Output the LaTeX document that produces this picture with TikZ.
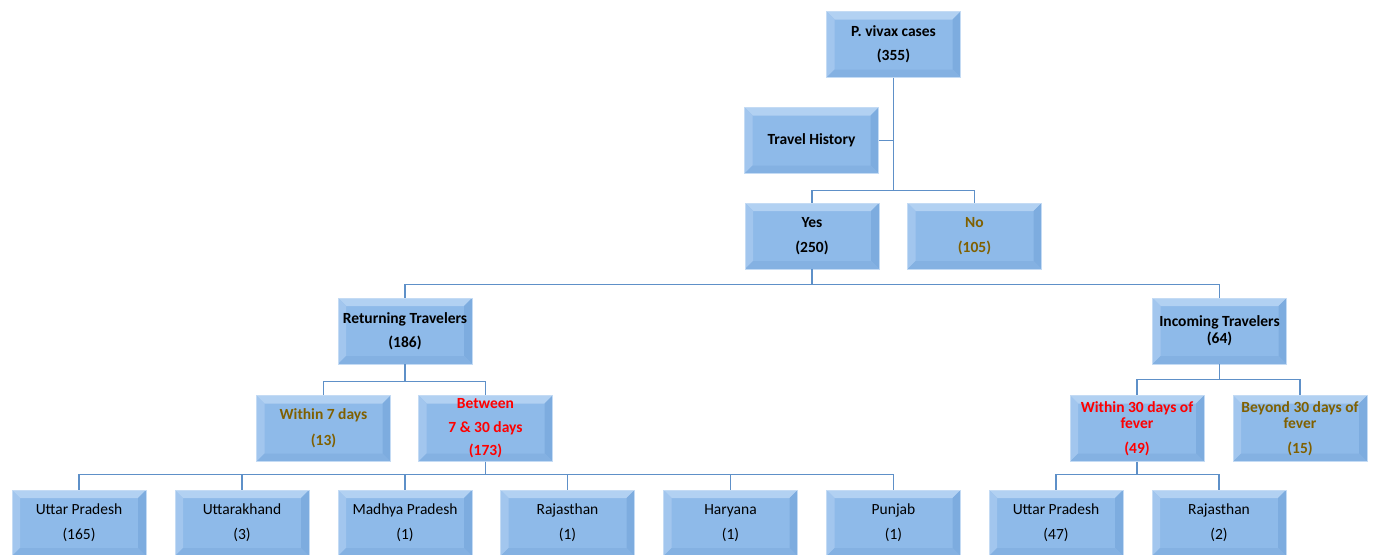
\documentclass[tikz,border=0pt]{standalone}
\usepackage{fontspec}
\setmainfont{Carlito}

\definecolor{boxfill}{HTML}{8EBAE9}
\definecolor{boxedge}{HTML}{C4DBF4}
\definecolor{bevtop}{HTML}{B2D1F2}
\definecolor{bevleft}{HTML}{A2C6EE}
\definecolor{bevright}{HTML}{7DACDF}
\definecolor{bevbottom}{HTML}{84B1E2}
\definecolor{linkcol}{HTML}{5E90C8}
\definecolor{olive}{HTML}{806000}

\tikzset{
  bevelbox/.style={minimum width=134pt, minimum height=66pt, inner sep=0pt,
    fill=boxfill, draw=boxedge, line width=0.6pt, align=center,
    font=\bfseries\fontsize{15.5}{18}\selectfont,
    path picture={
      \fill[bevtop] (path picture bounding box.north west) -- (path picture bounding box.north east)
        -- ([shift={(-8pt,-8pt)}]path picture bounding box.north east) -- ([shift={(8pt,-8pt)}]path picture bounding box.north west) -- cycle;
      \fill[bevleft] (path picture bounding box.north west) -- (path picture bounding box.south west)
        -- ([shift={(8pt,8pt)}]path picture bounding box.south west) -- ([shift={(8pt,-8pt)}]path picture bounding box.north west) -- cycle;
      \fill[bevright] (path picture bounding box.north east) -- (path picture bounding box.south east)
        -- ([shift={(-8pt,8pt)}]path picture bounding box.south east) -- ([shift={(-8pt,-8pt)}]path picture bounding box.north east) -- cycle;
      \fill[bevbottom] (path picture bounding box.south west) -- (path picture bounding box.south east)
        -- ([shift={(-8pt,8pt)}]path picture bounding box.south east) -- ([shift={(8pt,8pt)}]path picture bounding box.south west) -- cycle;
    }},
  statebox/.style={bevelbox, font=\fontsize{15.5}{18}\selectfont},
  link/.style={draw=linkcol, line width=1.2pt},
}

\begin{document}
\begin{tikzpicture}[x=1pt,y=-1pt]
\useasboundingbox (0,0) rectangle (1378,554);

% upper levels
\node[bevelbox] (root) at (893.5,44.5) {P. vivax cases\\[6pt](355)};
\node[bevelbox] (travel) at (811.5,140.5) {Travel History};
\node[bevelbox] (yes) at (812,236) {Yes\\[7pt](250)};
\node[bevelbox, text=olive] (no) at (974.5,236) {No\\[7pt](105)};

\node[bevelbox] (ret) at (405,331) {Returning Travelers\\[6pt](186)};
\node[bevelbox] (inc) at (1219.5,331) {Incoming Travelers\\[-1pt](64)};

\node[bevelbox, text=olive] (within7) at (323.5,428.5) {Within 7 days\\[8pt](13)};
\node[bevelbox, text=red] (between) at (485.5,428.5) {Between\\[6pt]7 \& 30 days\\[5pt](173)};
\node[bevelbox, text=red] (within30) at (1137,428.5) {Within 30 days of\\[-2pt]fever\\[7pt](49)};
\node[bevelbox, text=olive] (beyond30) at (1300,428.5) {Beyond 30 days of\\[-2pt]fever\\[7pt](15)};

% states
\node[statebox] (up1) at (79,523) {Uttar Pradesh\\[7pt](165)};
\node[statebox] (uk) at (242,523) {Uttarakhand\\[7pt](3)};
\node[statebox] (mp) at (405,523) {Madhya Pradesh\\[7pt](1)};
\node[statebox] (rj1) at (567.5,523) {Rajasthan\\[7pt](1)};
\node[statebox] (hr) at (730.5,523) {Haryana\\[7pt](1)};
\node[statebox] (pb) at (893.5,523) {Punjab\\[7pt](1)};
\node[statebox] (up2) at (1056,523) {Uttar Pradesh\\[7pt](47)};
\node[statebox] (rj2) at (1219,523) {Rajasthan\\[7pt](2)};

% connectors
\draw[link] (root.south) -- ++(0,113) -| (yes.north);
\draw[link] (root.south) -- ++(0,113) -| (no.north);
\draw[link] (travel.east) -- (travel.east -| root.south);

\draw[link] (yes.south) -- ++(0,15) -| (ret.north);
\draw[link] (yes.south) -- ++(0,15) -| (inc.north);

\draw[link] (ret.south) -- ++(0,17) -| (within7.north);
\draw[link] (ret.south) -- ++(0,17) -| (between.north);
\draw[link] (inc.south) -- ++(0,15) -| (within30.north);
\draw[link] (inc.south) -- ++(0,15) -| (beyond30.north);

\foreach \s in {up1,uk,mp,rj1,hr,pb}
  \draw[link] (between.south) -- ++(0,13) -| (\s.north);
\foreach \s in {up2,rj2}
  \draw[link] (within30.south) -- ++(0,13) -| (\s.north);
\end{tikzpicture}
\end{document}
